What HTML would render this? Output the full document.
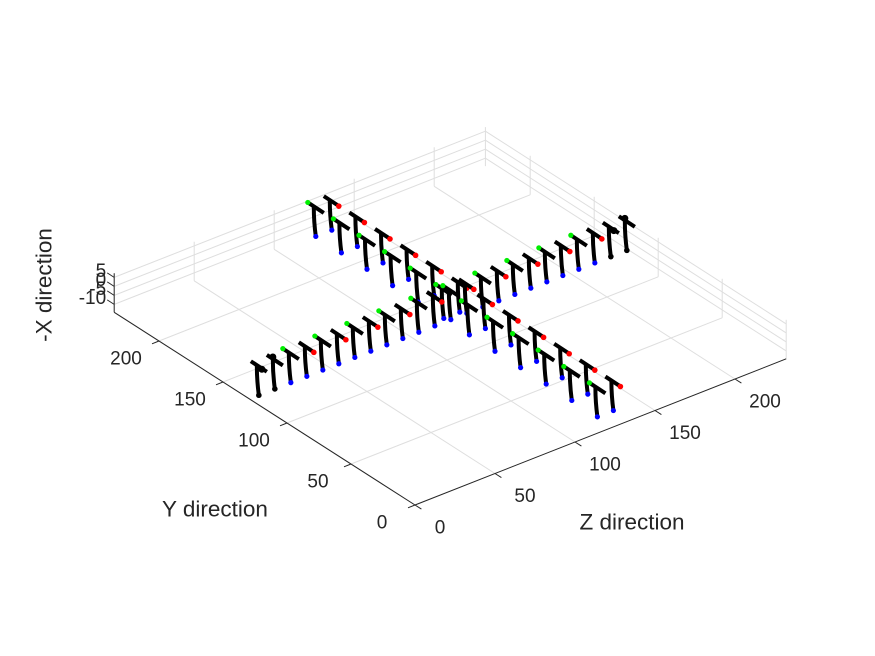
<!DOCTYPE html>
<html><head><meta charset="utf-8"><style>
html,body{margin:0;padding:0;background:#fff}
svg{display:block;font-family:"Liberation Sans",Arial,sans-serif}
</style></head><body>
<svg id="chart" width="875" height="656" viewBox="0 0 875 656" xmlns="http://www.w3.org/2000/svg">
<rect width="875" height="656" fill="#fff"/>
<g id="grid"></g>
<g id="axes"></g>
<g id="figs"></g>
<g id="labels" fill="#262626"></g>
</svg>
<script>
const yTicks=[0,50,100,150,200];
const zTicks=[0,50,100,150,200];
const xTicks=[-10,-5,0,5];
const xTickLabels=["-10","-5","0","5"];
const line1Z=[0,10,20,30,40,50,60,70,80,90,100,110,120,130,140,150,160,170,180,190,200,210,220,230];
const line1Y=122;
const line2Y=[225,205,185,165,145,125,105,85,65,45,25,5];
const line2Z=[118,128];
const footX=-9;
const yMax=235,zMax=232,xMin=-14.4,xMax=7.3;

const NS="http://www.w3.org/2000/svg";
function P(y,z,x){return [415-1.28*y+1.6*z, 505-0.82*y-0.63*z-(x-xMin)*1.8];}
function mk(tag,attrs,parent){const e=document.createElementNS(NS,tag);for(const k in attrs)e.setAttribute(k,attrs[k]);parent.appendChild(e);return e;}
function ln(a,b,col,w,parent,name){const e=mk('line',{x1:a[0],y1:a[1],x2:b[0],y2:b[1],stroke:col,'stroke-width':w},parent);


return e;}
const G=document.getElementById('grid'),A=document.getElementById('axes'),F=document.getElementById('figs'),L=document.getElementById('labels');
const gc='#dedede';
yTicks.forEach(y=>{ln(P(y,0,xMin),P(y,zMax,xMin),gc,1,G,'floor-grid-y');ln(P(y,zMax,xMin),P(y,zMax,xMax),gc,1,G,'wall-grid-y');});
zTicks.forEach(z=>{ln(P(0,z,xMin),P(yMax,z,xMin),gc,1,G,'floor-grid-z');ln(P(yMax,z,xMin),P(yMax,z,xMax),gc,1,G,'wall-grid-z');});
xTicks.forEach(x=>{ln(P(yMax,0,x),P(yMax,zMax,x),gc,1,G,'wall-grid-x-left');ln(P(yMax,zMax,x),P(0,zMax,x),gc,1,G,'wall-grid-x-right');});
ln(P(yMax,zMax,xMin),P(yMax,zMax,xMax),gc,1,G,'back-corner-edge');
const ac='#262626';
ln(P(0,0,xMin),P(yMax,0,xMin),ac,1,A,'y-axis-line');
ln(P(0,0,xMin),P(0,zMax,xMin),ac,1,A,'z-axis-line');
ln(P(yMax,0,xMin),P(yMax,0,xMax),ac,1,A,'x-axis-line');
function txt(s,x,y,anchor,name,size){const t=mk('text',{x:x,y:y,'text-anchor':anchor,'dominant-baseline':'central','font-size':size},L);t.textContent=s;


return t;}
yTicks.forEach(y=>{const p=P(y,0,xMin);ln(p,[p[0]-7,p[1]+2.8],ac,1,A,'y-tick');txt(String(y),p[0]-33,p[1]+18,'middle','y-tick-label',19);});
zTicks.forEach(z=>{const p=P(0,z,xMin);ln(p,[p[0]+6.4,p[1]+4.1],ac,1,A,'z-tick');txt(String(z),p[0]+(z===0?25:30),p[1]+23,'middle','z-tick-label',19);});
xTicks.forEach((x,i)=>{const p=P(yMax,0,x);ln(p,[p[0]-7,p[1]-4.5],ac,1,A,'x-tick');txt(xTickLabels[i],p[0]-8,p[1]-6,'end','x-tick-label',19);});
txt('Y direction',215,509,'middle','y-axis-title',22.5);
txt('Z direction',632,522,'middle','z-axis-title',22.5);
const xt=txt('-X direction',0,0,'middle','x-axis-title',22.5);xt.setAttribute('transform','translate(44,285) rotate(-90)');
const figs=[];
line1Z.forEach((z,i)=>figs.push({y:line1Y,z:z,i:i,n:line1Z.length,line:1}));
line2Y.forEach((y,i)=>line2Z.forEach((z,j)=>figs.push({y:y,z:z,i:i*2+j,n:line2Y.length*2,line:2})));
figs.forEach(f=>f.p=P(f.y,f.z,footX));
figs.sort((a,b)=>a.p[1]-b.p[1]);
figs.forEach(f=>{
  const [x,y]=f.p;
  const g=mk('g',{},F);
  
  
  const body=mk('path',{d:`M${x},${y} Q${x-2},${y-15} ${x-2},${y-29}`,stroke:'#000','stroke-width':4,fill:'none','stroke-linecap':'round'},g);
  
  
  const bar=mk('line',{x1:x-8,y1:y-34,x2:x+8,y2:y-23.5,stroke:'#000','stroke-width':4},g);
  
  
  const end=(f.line===1&&(f.i<2||f.i>=f.n-2));
  if(end){
    const d=mk('circle',{cx:x,cy:y,r:2.8,fill:'#000'},g);
    const e=mk('circle',{cx:(f.i%2?x-2:x+3),cy:(f.i%2?y-32:y-26),r:3.5,fill:'#000'},g);
  } else {
    const d=mk('circle',{cx:x,cy:y,r:2.6,fill:'#0000ff'},g);
    if(f.i%2===0){const e=mk('circle',{cx:x-8,cy:y-34,r:2.6,fill:'#00ee00'},g);}
    else{const e=mk('circle',{cx:x+7,cy:y-24,r:2.8,fill:'#ff0000'},g);}
  }
});
</script>
</body></html>
